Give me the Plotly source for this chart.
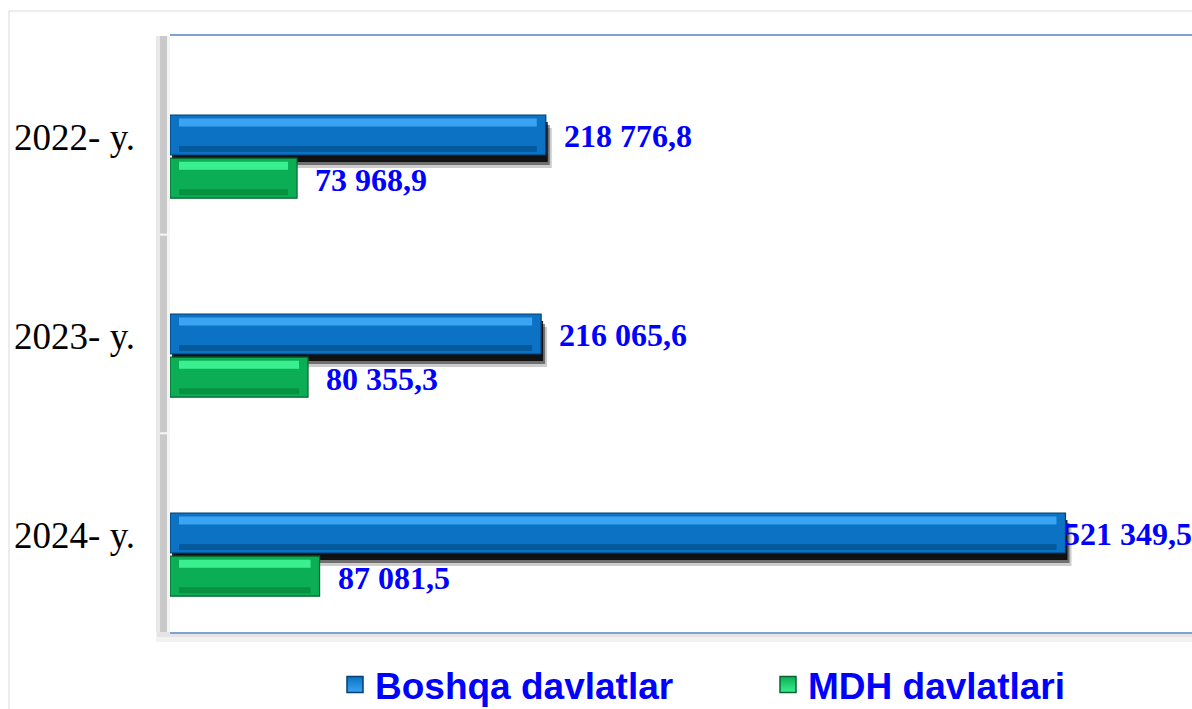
import plotly.graph_objects as go

# ---------------- data ----------------
categories = ["2022- y.", "2023- y.", "2024- y."]
boshqa = [218776.8, 216065.6, 521349.5]
mdh = [73968.9, 80355.3, 87081.5]
series_names = ["Boshqa davlatlar", "MDH davlatlari"]

# ---------------- style ----------------
W, H = 1192, 709
ML, MR, MT, MB = 170, 0, 36, 77
X_MAX = 595000
plot_w = W - ML - MR
plot_h = H - MT - MB
units_per_px = X_MAX / plot_w

# category axis: 3-D perspective pushes bars ~22px down from the band centres
CAT_PX = 199.0
FIRST_CENTER_PX = 121.0
Y_TOP = -FIRST_CENTER_PX / CAT_PX
Y_BOTTOM = Y_TOP + plot_h / CAT_PX

BLUE_MAIN, BLUE_LINE, BLUE_HI, BLUE_LO = "#0b72c4", "#033f70", "#3aa4f2", "#055a9e"
GREEN_MAIN, GREEN_LINE, GREEN_HI, GREEN_LO = "#0cae55", "#06652f", "#3af08e", "#07923f"
LABEL_BLUE = "#0000ff"

BW = 0.201      # bar thickness (category units)
B_OFF = -0.211  # blue offset
G_OFF = 0.006   # green offset
INSET = 9 * units_per_px


def fmt(v):
    s = f"{v:,.1f}"
    return s.replace(",", " ").replace(".", ",")


fig = go.Figure()

# shadows under blue bars
for alpha, dy, dx in [(0.2, 0.065, 6), (0.45, 0.05, 4), (0.85, 0.035, 2)]:
    fig.add_trace(go.Bar(
        y=categories, x=boshqa, base=[dx * units_per_px] * len(boshqa),
        orientation="h", offset=B_OFF + dy, width=BW,
        marker=dict(color=f"rgba(0,0,0,{alpha})", line=dict(width=0)),
        showlegend=False, hoverinfo="skip"))


def bevel_bar(vals, off, main, line, hi, lo, name, legend_id):
    fig.add_trace(go.Bar(
        y=categories, x=vals, orientation="h", offset=off, width=BW,
        name=name, marker=dict(color=main, line=dict(color=line, width=1.2)),
        showlegend=False, hoverinfo="x+y"))
    inner = [v - 2 * INSET for v in vals]
    base = [INSET] * len(vals)
    fig.add_trace(go.Bar(
        y=categories, x=inner, base=base, orientation="h",
        offset=off + 0.018, width=0.04,
        marker=dict(color=hi, line=dict(width=0)),
        showlegend=False, hoverinfo="skip"))
    fig.add_trace(go.Bar(
        y=categories, x=inner, base=base, orientation="h",
        offset=off + BW - 0.045, width=0.03,
        marker=dict(color=lo, line=dict(width=0)),
        showlegend=False, hoverinfo="skip"))
    # legend entry with a larger square symbol
    fig.add_trace(go.Scatter(
        x=[None], y=[None], mode="markers", name=name, legend=legend_id,
        marker=dict(symbol="square", size=16, color=main, line=dict(color=line, width=1.5),
                    gradient=dict(type="vertical", color=hi)),
        showlegend=True, hoverinfo="skip"))


bevel_bar(boshqa, B_OFF, BLUE_MAIN, BLUE_LINE, BLUE_HI, BLUE_LO, series_names[0], "legend")
bevel_bar(mdh, G_OFF, GREEN_MAIN, GREEN_LINE, GREEN_HI, GREEN_LO, series_names[1], "legend2")

# value labels
LABEL_SIZE = 32
annotations = []
for vals, yshift in [(boshqa, 21), (mdh, -23)]:
    for cat, v in zip(categories, vals):
        txt = fmt(v)
        est_w = LABEL_SIZE * (0.5 * sum(c.isdigit() for c in txt) + 0.25 * 2)
        end_px = v / units_per_px + 16 + est_w
        common = dict(y=cat, yref="y", yshift=yshift, text=f"<b>{txt}</b>", showarrow=False,
                      font=dict(family="Liberation Serif", size=LABEL_SIZE, color=LABEL_BLUE))
        if end_px > plot_w:
            annotations.append(dict(x=1, xref="paper", xanchor="right", xshift=2, **common))
        else:
            annotations.append(dict(x=v, xref="x", xanchor="left", xshift=16, **common))

pw, ph = plot_w, plot_h
shapes = [
    # outer chart frame
    dict(type="rect", xref="paper", yref="paper",
         x0=(9 - ML) / pw, x1=1.05, y0=-0.3, y1=(H - MB - 11) / ph,
         line=dict(color="#d9d9d9", width=1), fillcolor="rgba(0,0,0,0)", layer="below"),
    # shadow under bottom axis line
    dict(type="rect", xref="paper", yref="paper", x0=-14 / pw, x1=1, y0=-10 / ph, y1=0,
         line=dict(width=0), fillcolor="#f2f2f2", layer="below"),
    dict(type="rect", xref="paper", yref="paper", x0=-13 / pw, x1=1, y0=-5 / ph, y1=0,
         line=dict(width=0), fillcolor="#e5e5e5", layer="below"),
    # left wall
    dict(type="rect", xref="paper", yref="paper", x0=-14 / pw, x1=0, y0=0, y1=1,
         line=dict(width=0), fillcolor="#e8e8e8", layer="below"),
    dict(type="rect", xref="paper", yref="paper", x0=-10 / pw, x1=-3 / pw, y0=0, y1=1,
         line=dict(width=0), fillcolor="#c9c9c9", layer="below"),
    dict(type="rect", xref="paper", yref="paper", x0=-3 / pw, x1=0, y0=0, y1=1,
         line=dict(width=0), fillcolor="#f4f4f4", layer="below"),
]
for b in [1 / 3, 2 / 3]:
    shapes.append(dict(type="line", xref="paper", yref="paper", x0=-10 / pw, x1=0, y0=b, y1=b,
                       line=dict(color="#f7f7f7", width=2)))

legend_common = dict(orientation="h", xanchor="left", y=(H - MB - 685) / ph, yanchor="middle",
                     font=dict(family="Liberation Sans", size=37, color=LABEL_BLUE, weight="bold"),
                     bgcolor="rgba(0,0,0,0)")

fig.update_layout(
    width=W, height=H,
    margin=dict(l=ML, r=MR, t=MT, b=MB, pad=0, autoexpand=False),
    paper_bgcolor="white", plot_bgcolor="white",
    barmode="overlay",
    xaxis=dict(range=[0, X_MAX], showgrid=False, zeroline=False, showticklabels=False,
               showline=True, linecolor="#7ea3d2", linewidth=1.5, mirror=True, ticks=""),
    yaxis=dict(range=[Y_BOTTOM, Y_TOP], type="category", showgrid=False, zeroline=False,
               showline=False, ticks="", ticklabelstandoff=34, ticklabelshift=20,
               tickfont=dict(family="Liberation Serif", size=37, color="black")),
    legend=dict(x=(335 - ML) / pw, **legend_common),
    legend2=dict(x=(768 - ML) / pw, **legend_common),
    annotations=annotations,
    shapes=shapes,
    showlegend=True,
)

fig.write_html("out.html", config={"displayModeBar": False},
               post_script="document.body.style.margin='0px';document.body.style.overflow='hidden';")
